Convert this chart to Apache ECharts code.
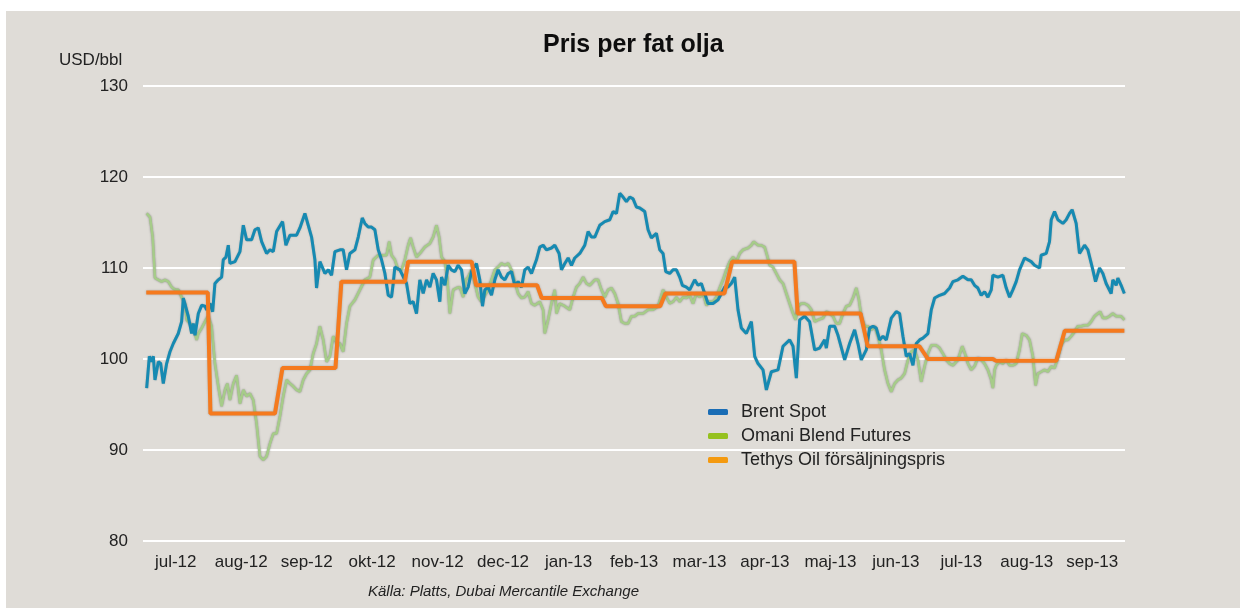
<!DOCTYPE html>
<html>
<head>
<meta charset="utf-8">
<script src="https://cdn.jsdelivr.net/npm/echarts@6/dist/echarts.min.js"></script>
<style>
html,body{margin:0;padding:0;background:#ffffff;}
#chart{width:1251px;height:608px;}
</style>
</head>
<body>
<div id="chart"></div>
<script>
// Month labels (x axis categories)
const months = ['jul-12','aug-12','sep-12','okt-12','nov-12','dec-12','jan-13','feb-13','mar-13','apr-13','maj-13','jun-13','jul-13','aug-13','sep-13'];
const yTicks = [80, 90, 100, 110, 120, 130];
// x = months elapsed since 1 Jul 2012, y = USD/bbl
const brent = [[0.056,96.8],[0.097,100.3],[0.132,99.7],[0.158,100.3],[0.183,97.7],[0.234,99.7],[0.270,99.5],[0.310,97.3],[0.361,99.5],[0.412,100.8],[0.463,101.7],[0.539,102.8],[0.590,104.1],[0.616,106.7],[0.641,106.5],[0.692,104.7],[0.743,102.8],[0.768,103.9],[0.794,102.6],[0.845,105.0],[0.896,105.9],[0.947,105.8],[0.972,105.4],[1.023,106.1],[1.064,105.2],[1.099,108.3],[1.150,108.7],[1.201,109.0],[1.226,110.9],[1.267,111.2],[1.303,112.5],[1.328,110.5],[1.405,110.7],[1.481,111.8],[1.532,114.7],[1.583,113.1],[1.659,113.1],[1.710,114.2],[1.761,114.4],[1.812,112.9],[1.888,111.6],[1.939,112.0],[1.990,111.8],[2.041,114.0],[2.132,115.1],[2.183,112.5],[2.244,113.6],[2.346,113.6],[2.397,114.4],[2.473,116.0],[2.524,114.7],[2.575,113.4],[2.626,110.9],[2.651,107.8],[2.702,110.7],[2.779,109.4],[2.830,109.8],[2.880,109.2],[2.931,111.8],[3.008,112.0],
[3.058,112.0],[3.109,109.8],[3.160,111.6],[3.237,112.0],[3.288,113.4],[3.349,115.5],[3.389,114.9],[3.440,114.5],[3.491,114.5],[3.542,114.2],[3.593,112.0],[3.644,110.9],[3.695,109.4],[3.746,107.0],[3.796,106.8],[3.822,108.3],[3.847,110.1],[3.924,109.8],[4.026,108.3],[4.076,106.1],[4.127,106.3],[4.178,105.0],[4.229,108.7],[4.280,107.2],[4.331,108.7],[4.382,107.9],[4.432,109.4],[4.483,108.7],[4.534,106.3],[4.560,109.0],[4.611,108.1],[4.662,110.3],[4.712,109.8],[4.763,109.6],[4.814,110.3],[4.865,109.8],[4.916,107.2],[4.967,107.9],[5.018,109.6],[5.094,110.5],[5.145,108.7],[5.186,105.8],[5.221,107.6],[5.272,107.9],[5.323,107.0],[5.374,108.7],[5.425,109.8],[5.476,109.0],[5.527,108.7],[5.578,109.4],[5.629,109.6],[5.679,108.1],[5.730,108.5],[5.781,107.9],[5.832,109.8],[5.883,110.1],[5.934,109.4],[6.010,110.9],[6.061,112.3],
[6.112,112.5],[6.163,112.0],[6.239,112.2],[6.290,112.5],[6.356,111.6],[6.392,109.8],[6.443,110.5],[6.494,111.1],[6.545,110.3],[6.595,111.1],[6.672,111.6],[6.748,112.5],[6.799,114.0],[6.850,113.4],[6.901,113.4],[6.977,114.7],[7.053,115.1],[7.130,115.3],[7.181,116.2],[7.232,116.0],[7.282,118.2],[7.333,117.8],[7.384,117.3],[7.435,117.8],[7.486,117.6],[7.537,116.7],[7.588,116.6],[7.664,116.2],[7.715,114.2],[7.766,113.3],[7.842,113.8],[7.893,112.0],[7.944,111.6],[7.985,109.6],[8.046,109.4],[8.097,109.8],[8.148,109.8],[8.198,109.0],[8.239,108.1],[8.300,107.9],[8.351,107.6],[8.427,108.7],[8.478,108.1],[8.529,108.3],[8.580,107.2],[8.631,106.1],[8.707,106.1],[8.784,106.5],[8.835,107.2],[8.885,107.9],[8.936,107.9],[8.987,108.3],[9.038,109.0],[9.089,105.4],[9.140,103.4],
[9.216,102.8],[9.293,104.1],[9.344,100.3],[9.394,99.5],[9.471,98.8],[9.522,96.6],[9.598,98.6],[9.700,98.8],[9.776,101.4],[9.878,102.1],[9.929,101.4],[9.980,97.9],[10.031,104.3],[10.107,104.7],[10.183,104.1],[10.260,101.0],[10.336,101.2],[10.412,102.1],[10.438,101.2],[10.489,103.6],[10.565,103.6],[10.616,102.6],[10.718,99.9],[10.794,101.7],[10.870,103.2],[10.921,101.7],[10.972,99.9],[11.048,101.0],[11.099,103.4],[11.150,103.6],[11.201,103.4],[11.252,102.1],[11.303,102.5],[11.354,102.1],[11.430,104.5],[11.506,105.2],[11.557,105.0],[11.608,102.5],[11.659,100.3],[11.710,100.6],[11.761,99.3],[11.812,101.7],[11.863,102.1],[11.913,102.3],[11.990,102.8],[12.041,105.4],[12.092,106.7],[12.168,107.0],[12.244,107.2],[12.321,107.8],[12.371,108.5],[12.448,108.7],[12.524,109.1],[12.601,108.7],[12.651,108.7],[12.702,108.1],[12.753,107.8],[12.804,107.0],[12.855,107.4],[12.906,106.8],[12.957,107.6],[12.982,109.2],[13.059,109.0],[13.135,109.2],[13.186,107.8],[13.237,106.8],[13.287,107.6],[13.338,108.5],[13.389,109.8],[13.466,111.1],[13.567,110.7],[13.618,110.3],[13.695,110.0],[13.720,111.4],[13.797,111.6],[13.847,112.9],[13.873,115.3],[13.924,116.2],[13.975,115.3],[14.051,114.9],[14.102,115.3],[14.153,116.0],[14.193,116.4],[14.254,114.9],[14.305,111.6],[14.382,112.5],[14.433,112.0],[14.509,109.8],[14.550,108.5],[14.611,110.0],[14.662,109.4],[14.712,108.3],[14.789,107.2],[14.814,108.7],[14.865,108.1],[14.891,108.9],[14.941,108.1],[14.990,107.2]];
const omani = [[0.056,116.0],[0.107,115.6],[0.148,113.4],[0.183,108.9],[0.234,108.7],[0.285,108.5],[0.336,108.7],[0.387,108.5],[0.438,107.9],[0.489,107.6],[0.539,107.6],[0.590,106.8],[0.641,106.1],[0.667,104.3],[0.718,103.9],[0.768,103.6],[0.819,102.1],[0.845,102.8],[0.896,103.4],[0.947,104.1],[0.997,104.7],[1.048,103.6],[1.099,99.5],[1.150,97.0],[1.201,94.8],[1.252,96.6],[1.288,97.3],[1.328,95.5],[1.379,97.3],[1.430,98.2],[1.481,95.1],[1.532,96.6],[1.583,95.9],[1.634,96.2],[1.684,95.5],[1.735,92.9],[1.786,89.3],[1.837,88.9],[1.888,89.3],[1.939,90.7],[1.990,91.8],[2.041,91.8],[2.092,93.7],[2.142,95.9],[2.193,97.7],[2.244,97.3],[2.295,97.0],[2.346,96.6],[2.397,96.4],[2.448,97.7],[2.499,98.4],[2.550,98.8],[2.600,100.6],[2.651,101.7],[2.702,103.6],[2.753,102.1],[2.804,99.7],[2.855,100.3],[2.906,102.5],[2.957,101.8],[3.008,101.7],
[3.058,100.8],[3.084,101.0],[3.109,103.9],[3.160,105.8],[3.237,106.5],[3.313,107.6],[3.389,108.7],[3.466,109.0],[3.517,110.9],[3.593,111.4],[3.669,111.4],[3.720,111.4],[3.761,112.9],[3.796,111.4],[3.847,110.9],[3.898,109.8],[3.949,109.8],[4.000,110.9],[4.051,112.5],[4.087,113.3],[4.127,112.3],[4.178,111.2],[4.229,111.6],[4.305,112.3],[4.382,112.7],[4.432,113.4],[4.483,114.7],[4.524,113.4],[4.560,111.2],[4.611,110.7],[4.646,109.0],[4.687,105.0],[4.738,107.6],[4.789,107.8],[4.840,107.9],[4.891,106.8],[4.931,108.7],[4.967,109.0],[5.018,109.8],[5.069,108.3],[5.120,106.8],[5.170,106.3],[5.221,107.0],[5.272,107.6],[5.323,108.7],[5.374,109.8],[5.425,110.1],[5.476,110.5],[5.527,110.3],[5.578,110.5],[5.629,109.8],[5.679,108.5],[5.730,107.2],[5.781,106.7],[5.832,106.8],[5.883,107.4],[5.934,106.1],[5.985,105.9],[6.061,106.3],
[6.112,105.4],[6.137,102.8],[6.188,104.3],[6.239,106.1],[6.290,107.6],[6.316,105.0],[6.366,106.1],[6.443,105.8],[6.519,105.4],[6.570,106.8],[6.621,107.9],[6.672,108.3],[6.723,109.0],[6.774,108.3],[6.824,108.1],[6.901,108.7],[6.952,108.7],[7.003,107.6],[7.053,106.8],[7.104,107.6],[7.155,107.8],[7.206,107.2],[7.257,106.1],[7.308,104.1],[7.359,103.9],[7.410,103.9],[7.461,104.7],[7.511,104.7],[7.562,105.0],[7.639,105.0],[7.715,105.4],[7.791,105.4],[7.868,105.8],[7.944,107.6],[7.995,106.8],[8.046,106.1],[8.097,106.3],[8.148,106.8],[8.198,106.3],[8.249,106.8],[8.300,106.7],[8.351,107.0],[8.402,106.1],[8.453,107.2],[8.504,106.8],[8.555,107.2],[8.606,105.9],[8.656,106.3],[8.707,106.3],[8.758,106.8],[8.809,107.8],[8.860,108.7],[8.911,109.8],[8.962,110.7],[9.013,111.2],[9.064,110.7],[9.115,111.6],
[9.165,112.0],[9.242,112.2],[9.293,112.5],[9.328,112.9],[9.394,112.5],[9.445,112.5],[9.496,112.3],[9.532,111.4],[9.573,110.3],[9.623,110.1],[9.674,109.4],[9.725,108.7],[9.776,108.3],[9.827,107.2],[9.878,106.1],[9.929,105.0],[9.969,104.3],[10.005,105.8],[10.056,106.1],[10.107,106.1],[10.158,105.9],[10.209,105.4],[10.260,104.1],[10.310,104.3],[10.387,104.5],[10.438,105.2],[10.489,105.0],[10.540,104.7],[10.590,103.9],[10.641,103.9],[10.692,105.0],[10.743,105.8],[10.794,105.9],[10.845,106.7],[10.896,107.8],[10.936,106.5],[10.972,104.7],[11.023,103.6],[11.074,103.6],[11.125,103.2],[11.176,103.6],[11.226,102.5],[11.277,101.0],[11.328,98.8],[11.379,97.3],[11.430,96.4],[11.481,97.3],[11.532,97.7],[11.583,97.9],[11.634,98.4],[11.685,99.9],[11.735,100.8],[11.786,101.0],[11.837,99.9],[11.888,97.5],[11.939,99.2],[11.990,100.6],[12.041,101.5],[12.117,101.5],
[12.168,101.2],[12.219,100.6],[12.270,99.9],[12.321,99.5],[12.372,99.3],[12.448,99.9],[12.514,101.4],[12.565,100.4],[12.601,99.5],[12.651,98.8],[12.702,99.2],[12.753,100.1],[12.804,99.9],[12.855,99.5],[12.906,98.8],[12.957,97.7],[12.982,96.8],[13.008,98.8],[13.033,99.3],[13.084,99.7],[13.135,99.5],[13.186,99.9],[13.237,99.3],[13.288,99.3],[13.338,99.5],[13.389,101.0],[13.430,102.8],[13.491,102.6],[13.542,102.1],[13.593,100.3],[13.634,97.1],[13.669,98.4],[13.720,98.6],[13.771,98.8],[13.822,98.6],[13.873,99.2],[13.924,99.0],[13.975,100.1],[14.025,101.5],[14.076,102.1],[14.127,102.1],[14.178,102.5],[14.229,103.0],[14.280,103.6],[14.331,103.6],[14.382,103.7],[14.433,103.7],[14.483,104.1],[14.534,104.7],[14.585,105.0],[14.621,105.2],[14.662,104.5],[14.713,104.5],[14.763,104.7],[14.814,105.0],[14.865,104.7],[14.941,104.7],[14.990,104.3]];
const tethys = [[0.05,107.3],[0.99,107.3],[1.03,94.0],[2.015,94.0],[2.13,99.0],[2.94,99.0],[3.03,108.5],[4.0,108.5],[4.05,110.7],[5.02,110.7],[5.09,108.1],[6.02,108.1],[6.09,106.7],[7.01,106.7],[7.07,105.8],[7.9,105.8],[7.98,107.2],[8.88,107.2],[9.0,110.7],[9.95,110.7],[10.0,105.0],[10.96,105.0],[11.07,101.4],[11.86,101.4],[11.99,100.0],[12.98,100.0],[13.03,99.8],[13.95,99.8],[14.08,103.1],[14.99,103.1]];

const FONT = '"Liberation Sans", Arial, sans-serif';
const chart = echarts.init(document.getElementById('chart'), null, {renderer: 'canvas'});
chart.setOption({
  backgroundColor: '#ffffff',
  animation: false,
  graphic: [
    {type: 'rect', z: -10, shape: {x: 6, y: 11, width: 1234, height: 597}, style: {fill: '#dfdcd7'}},
    {type: 'text', left: 368, top: 584, style: {text: 'Källa: Platts, Dubai Mercantile Exchange', font: 'italic 15px ' + FONT, fill: '#222'}},
    {type: 'text', left: 59, top: 52, style: {text: 'USD/bbl', font: '17px ' + FONT, fill: '#222'}}
  ],
  title: {
    text: 'Pris per fat olja', left: 538, top: 28,
    textStyle: {fontFamily: FONT, fontSize: 25, fontWeight: 900, color: '#0d0d0d'}
  },
  legend: {
    orient: 'vertical', left: 708, top: 403, padding: 0, itemWidth: 20, itemHeight: 6, itemGap: 6,
    icon: 'roundRect',
    textStyle: {fontFamily: FONT, fontSize: 18, color: '#222', lineHeight: 18, padding: [0,0,0,8]},
    data: [
      {name: 'Brent Spot', itemStyle: {color: '#1a6db5'}},
      {name: 'Omani Blend Futures', itemStyle: {color: '#95c11f'}},
      {name: 'Tethys Oil försäljningspris', itemStyle: {color: '#f49a10'}}
    ]
  },
  grid: {left: 143, right: 126, top: 86, bottom: 67, containLabel: false},
  xAxis: [
    {type: 'category', data: months, boundaryGap: true, position: 'bottom',
     axisLine: {show: false}, axisTick: {show: false}, splitLine: {show: false},
     axisLabel: {fontFamily: FONT, fontSize: 17, color: '#222', margin: 13, interval: 0}},
    {type: 'value', min: 0, max: 15, show: false}
  ],
  yAxis: {
    type: 'value', min: yTicks[0], max: yTicks[yTicks.length - 1], interval: 10,
    axisLine: {show: false}, axisTick: {show: false},
    axisLabel: {fontFamily: FONT, fontSize: 17, color: '#222', margin: 15},
    splitLine: {lineStyle: {color: '#ffffff', width: 2}}
  },
  series: [
    {name: 'Omani Blend Futures', type: 'line', xAxisIndex: 1, data: omani, showSymbol: false, symbol: 'none',
     lineStyle: {color: '#a6cc89', width: 2.5, shadowColor: 'rgba(80,80,80,0.6)', shadowBlur: 2}, z: 2},
    {name: 'Brent Spot', type: 'line', xAxisIndex: 1, data: brent, showSymbol: false, symbol: 'none',
     lineStyle: {color: '#168ab2', width: 3, shadowColor: 'rgba(60,60,60,0.3)', shadowBlur: 1.5}, z: 3},
    {name: 'Tethys Oil försäljningspris', type: 'line', xAxisIndex: 1, data: tethys, showSymbol: false, symbol: 'none',
     lineStyle: {color: '#f57a1e', width: 4, shadowColor: 'rgba(60,60,60,0.35)', shadowBlur: 2}, z: 4}
  ]
});
</script>
</body>
</html>
